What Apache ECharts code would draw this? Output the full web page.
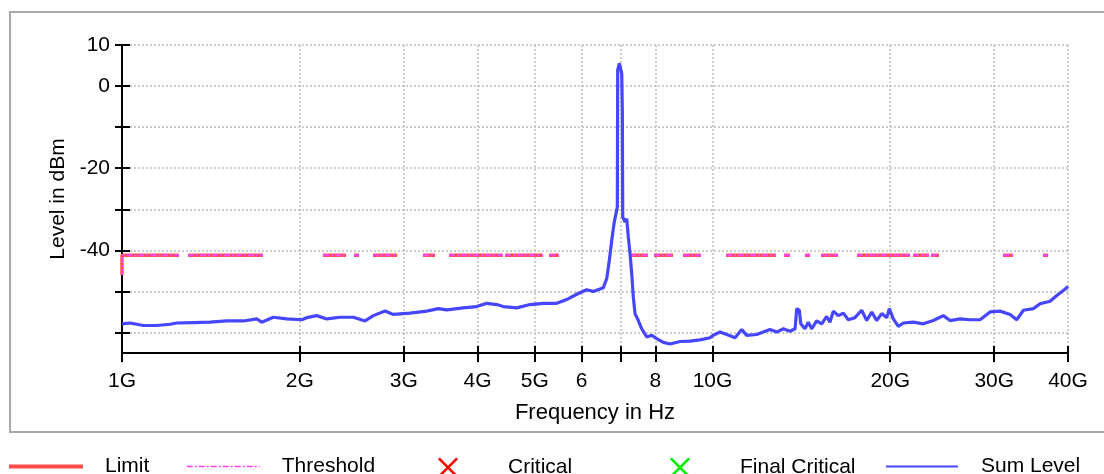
<!DOCTYPE html>
<html>
<head>
<meta charset="utf-8">
<script src="https://cdn.jsdelivr.net/npm/echarts@6/dist/echarts.min.js"></script>
<style>
html,body{margin:0;padding:0;background:#fff;}
#main{width:1104px;height:474px;}
</style>
</head>
<body>
<div id="main"></div>
<script>
// frequencies in GHz, levels in dBm
var sumFreq = [1.000,1.032,1.087,1.145,1.206,1.238,1.321,1.409,1.504,1.605,
	1.691,1.724,1.804,1.901,2.016,2.055,2.137,2.222,2.340,2.465,
	2.580,2.665,2.789,2.881,3.074,3.281,3.433,3.547,3.785,3.987,
	4.146,4.311,4.423,4.661,4.909,5.170,5.448,5.664,5.889,6.123,
	6.283,6.533,6.620,6.688,6.751,6.811,6.865,6.900,6.910,6.954,
	7.000,7.019,7.036,7.047,7.110,7.158,7.202,7.250,7.299,7.344,
	7.393,7.489,7.589,7.739,7.891,8.046,8.256,8.474,8.810,9.160,
	9.524,9.903,10.03,10.30,10.57,10.92,11.21,11.43,11.88,12.19,
	12.51,12.85,13.18,13.53,13.80,13.89,14.03,14.11,14.34,14.53,
	14.72,15.01,15.31,15.61,15.81,16.02,16.33,16.66,16.98,17.43,
	17.89,18.25,18.61,18.97,19.35,19.73,19.93,20.24,20.64,21.05,
	21.88,22.75,23.66,24.60,25.25,26.26,27.30,28.39,29.51,30.69,
	31.91,32.75,33.61,34.95,35.87,37.30,38.29,39.28,40.00];
var sumLevel = [-57.9,-57.7,-58.3,-58.3,-58.0,-57.7,-57.6,-57.5,-57.2,-57.2,
	-56.7,-57.5,-56.3,-56.7,-56.9,-56.4,-55.9,-56.7,-56.3,-56.3,
	-57.2,-55.9,-54.8,-55.6,-55.3,-54.8,-54.2,-54.5,-54.0,-53.7,
	-52.9,-53.2,-53.7,-54.0,-53.2,-52.9,-52.9,-52.0,-50.7,-49.6,
	-50.0,-49.1,-46.9,-42.4,-37.6,-33.5,-31.0,-29.4,3.9,5.5,
	5.7,3.1,-5.9,-31.9,-33.1,-32.3,-36.8,-40.8,-45.7,-51.4,
	-55.4,-57.1,-59.1,-61.1,-60.7,-61.5,-62.4,-62.8,-62.2,-62.1,
	-61.8,-61.3,-60.7,-59.9,-60.5,-61.3,-59.3,-60.7,-60.5,-59.9,
	-59.3,-59.9,-59.1,-59.7,-59.1,-54.2,-54.6,-57.9,-59.1,-57.5,
	-59.1,-57.2,-57.9,-56.1,-57.5,-54.8,-55.9,-55.3,-56.9,-56.4,
	-54.6,-57.1,-55.0,-57.1,-55.4,-56.4,-54.2,-56.7,-58.5,-57.7,
	-57.5,-57.9,-57.1,-55.9,-57.1,-56.7,-56.9,-56.9,-55.0,-54.8,
	-55.6,-56.9,-54.6,-54.2,-53.0,-52.4,-51.0,-49.8,-48.8];

// limit / threshold bands (GHz)
var limitStart = [1.000,1.294,2.189,2.471,2.661,3.234,3.579,4.453,5.287,7.250,7.962,8.914,10.54,13.22,14.34,15.27,17.57,21.86,23.45,31.05,36.29];
var limitStop  = [1.249,1.733,2.396,2.520,2.923,3.389,4.418,5.164,5.497,7.778,8.573,9.562,12.81,13.53,14.63,16.31,21.60,23.27,24.19,32.29,37.01];
var limitLevel = -41.2;
var limitDrop = -46;

var xTickFreq  = [1,2,3,4,5,6,7,8,10,20,30,40];
var xTickLabel = ['1G','2G','3G','4G','5G','6','','8','10G','20G','30G','40G'];
var yTicks  = [10,0,-10,-20,-30,-40,-50,-60];
var yLabels = [10,0,-20,-40];

var lg = function(f){ return Math.log10(f); };
var xTickVals = xTickFreq.map(lg);

var sumData = [];
for (var i = 0; i < sumFreq.length; i++) {
	sumData.push([lg(sumFreq[i]), sumLevel[i]]);
}
var limitData = [[0, limitDrop]];
for (var j = 0; j < limitStart.length; j++) {
	if (j > 0) limitData.push([(lg(limitStop[j-1]) + lg(limitStart[j])) / 2, null]);
	limitData.push([lg(limitStart[j]), limitLevel]);
	limitData.push([lg(limitStop[j]), limitLevel]);
}

var FONT = '"Liberation Sans", Arial, sans-serif';
var crossPath = 'path://M0,9L9,0L50,41L91,0L100,9L59,50L100,91L91,100L50,59L9,100L0,91L41,50Z';
var gridLine = {show:true, lineStyle:{color:'#bdbdbd', type:[2,2], width:1.5}};

var myChart = echarts.init(document.getElementById('main'));

// one legend per entry so each can sit where the original puts it
function makeLegend(name, left, top, w, h, pad, isLine, lineW){
	var lgd = {
		data:[name], left:left, top:top, padding:0,
		itemWidth:w, itemHeight:h, selectedMode:false,
		textStyle:{fontSize:21, fontFamily:FONT, color:'#000', padding:[0,0,0,pad]}
	};
	if (isLine) {
		lgd.itemStyle = {opacity:0, color:'rgba(0,0,0,0)', borderWidth:0};
		lgd.lineStyle = {width:lineW};
	}
	return lgd;
}

var option = {
	backgroundColor:'#fff',
	animation:false,
	graphic:[{
		type:'rect', silent:true, z:-10,
		shape:{x:10, y:12, width:1120, height:420},
		style:{fill:'#fff', stroke:'#a9a9a9', lineWidth:2}
	}],
	grid:{left:122, right:36, top:45, bottom:121, containLabel:false},
	legend:[
		makeLegend('Limit', 7, 456, 74, 14, 17, true, 4),
		makeLegend('Threshold', 186, 456, 73, 14, 17, true, 1.5),
		makeLegend('Critical', 438, 457, 20, 20, 45),
		makeLegend('Final Critical', 670, 457, 20, 20, 45),
		makeLegend('Sum Level', 885, 456, 72, 14, 18, true, 2)
	],
	xAxis:[{
		type:'value', min:0, max:lg(40),
		name:'Frequency in Hz', nameLocation:'middle', nameGap:49,
		nameTextStyle:{fontSize:22, fontFamily:FONT, color:'#000'},
		axisLine:{onZero:false, lineStyle:{color:'#000', width:2}},
		axisTick:{customValues:xTickVals, length:9, lineStyle:{color:'#000', width:2}},
		axisLabel:{customValues:xTickVals, margin:18, fontSize:21, fontFamily:FONT, color:'#000',
			formatter:function(v){
				for (var k = 0; k < xTickVals.length; k++) {
					if (Math.abs(xTickVals[k] - v) < 1e-6) return xTickLabel[k];
				}
				return '';
			}},
		splitLine:gridLine
	},{
		type:'value', min:0, max:lg(40), position:'bottom',
		axisLine:{show:false, onZero:false},
		axisTick:{customValues:xTickVals, inside:true, length:7, lineStyle:{color:'#000', width:2}},
		axisLabel:{show:false},
		splitLine:{show:false}
	}],
	yAxis:[{
		type:'value', min:-65, max:10,
		name:'Level in dBm', nameLocation:'middle', nameGap:48,
		nameTextStyle:{fontSize:21, fontFamily:FONT, color:'#000'},
		axisLine:{show:true, onZero:false, lineStyle:{color:'#000', width:2}},
		axisTick:{show:true, customValues:yTicks, length:7, lineStyle:{color:'#000', width:2}},
		axisLabel:{customValues:yLabels, margin:12, fontSize:21, fontFamily:FONT, color:'#000'},
		splitLine:gridLine
	},{
		type:'value', min:-65, max:10, position:'left',
		axisLine:{show:false, onZero:false},
		axisTick:{show:true, customValues:yTicks, inside:true, length:8, lineStyle:{color:'#000', width:2}},
		axisLabel:{show:false},
		splitLine:{show:false}
	}],
	series:[{
		name:'Limit', type:'line', symbol:'none', connectNulls:false,
		data:limitData,
		lineStyle:{color:'#ff4d4d', width:3.5},
		itemStyle:{color:'#ff4d4d'}
	},{
		name:'Threshold', type:'line', symbol:'none', connectNulls:false,
		data:limitData,
		lineStyle:{color:'#ff44ff', width:1.8, type:[6,2,2,2]},
		itemStyle:{color:'#ff44ff'}
	},{
		name:'Critical', type:'scatter', symbol:crossPath, symbolSize:15,
		data:[], itemStyle:{color:'#ff0000', opacity:1}
	},{
		name:'Final Critical', type:'scatter', symbol:crossPath, symbolSize:15,
		data:[], itemStyle:{color:'#00ee00', opacity:1}
	},{
		name:'Sum Level', type:'line', symbol:'none',
		data:sumData,
		lineStyle:{color:'#4646ff', width:3.2},
		itemStyle:{color:'#4646ff'}
	}]
};
myChart.setOption(option);
</script>
</body>
</html>
